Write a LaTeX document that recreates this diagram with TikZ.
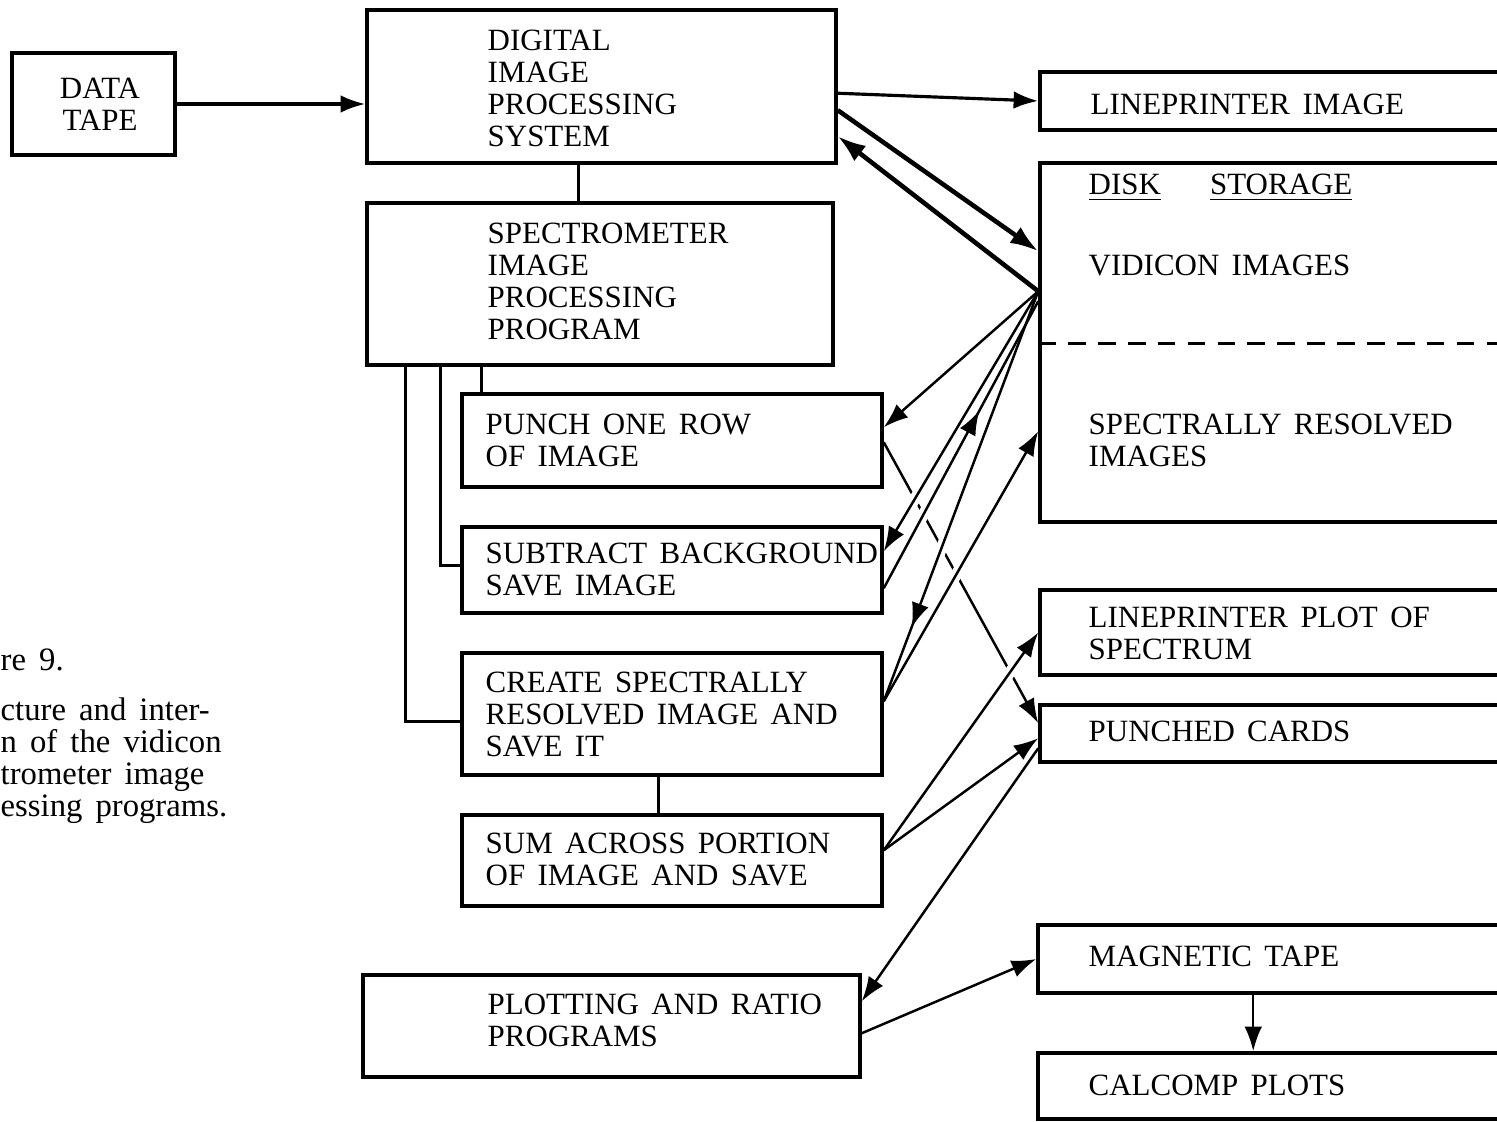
\documentclass[tikz,border=0pt]{standalone}
\usepackage{fontspec}
\setmainfont{Liberation Serif}[WordSpace=1.6]
\usetikzlibrary{arrows.meta,calc,fit,decorations.markings}

\newcommand{\boxfont}{\fontsize{8.8}{9.1}\selectfont}

\tikzset{
  box/.style={draw=black, line width=1pt, inner sep=0pt},
  txt/.style={anchor=west, align=left, inner sep=0pt, font=\boxfont},
  capt/.style={anchor=west, align=left, inner sep=0pt, font=\fontsize{9.3}{9.1}\selectfont},
  link/.style={line width=0.9pt},
  flow/.style={-{Latex[length=7pt,width=5pt]}, line width=0.7pt},
  heavy/.style={-{Latex[length=8pt,width=5.5pt]}, line width=1.3pt},
  midflow/.style={line width=0.7pt, postaction={decorate},
    decoration={markings, mark=at position #1 with {\arrow{Latex[length=7pt,width=5pt]}}}},
  gap/.style={draw=white, line width=3.2pt}
}

\begin{document}
\begin{tikzpicture}[x=0.01cm, y=-0.01cm]
  \useasboundingbox (0,0) rectangle (1497,1122);

  % boxes
  \node[box, fit={(12,53) (175,155)}] (data) {};
  \node[box, fit={(367,10) (836,163)}] (dips) {};
  \node[box, fit={(367,203) (833,365)}] (spip) {};
  \node[box, fit={(462,394) (882,487)}] (punch) {};
  \node[box, fit={(462,527) (882,613)}] (sub) {};
  \node[box, fit={(462,653) (882,775)}] (create) {};
  \node[box, fit={(462,815) (882,906)}] (sum) {};
  \node[box, fit={(363,975) (860,1077)}] (plot) {};
  \node[box, fit={(1040,72) (1540,130)}] (lpimg) {};
  \node[box, fit={(1040,163) (1540,522)}] (disk) {};
  \node[box, fit={(1040,590) (1540,675)}] (lpplot) {};
  \node[box, fit={(1040,705) (1540,762)}] (cards) {};
  \node[box, fit={(1038,925) (1540,993)}] (tape) {};
  \node[box, fit={(1038,1053) (1540,1119)}] (calcomp) {};

  % texts
  \node[font=\boxfont, align=center] (dataT) at (100,104) {DATA\\TAPE};
  \node[txt] (dipsT) at (487,88) {DIGITAL\\IMAGE\\PROCESSING\\SYSTEM};
  \node[txt] (spipT) at (487,281) {SPECTROMETER\\IMAGE\\PROCESSING\\PROGRAM};
  \node[txt] (punchT) at (485,440) {PUNCH ONE ROW\\OF IMAGE};
  \node[txt] (subT) at (485,569) {SUBTRACT BACKGROUND\\SAVE IMAGE};
  \node[txt] (createT) at (485,714) {CREATE SPECTRALLY\\RESOLVED IMAGE AND\\SAVE IT};
  \node[txt] (sumT) at (485,859) {SUM ACROSS PORTION\\OF IMAGE AND SAVE};
  \node[txt] (plotT) at (487,1020) {PLOTTING AND RATIO\\PROGRAMS};
  \node[txt] (lpimgT) at (1090,104) {LINEPRINTER IMAGE};
  \node[txt] (diskT) at (1088,188) {\underline{DISK}\hspace{14pt}\underline{STORAGE}};
  \node[txt] (vidT) at (1088,265) {VIDICON IMAGES};
  \node[txt] (specT) at (1088,440) {SPECTRALLY RESOLVED\\IMAGES};
  \node[txt] (lpplotT) at (1088,633) {LINEPRINTER PLOT OF\\SPECTRUM};
  \node[txt] (cardsT) at (1088,731) {PUNCHED CARDS};
  \node[txt] (tapeT) at (1088,956) {MAGNETIC TAPE};
  \node[txt] (calcompT) at (1088,1085) {CALCOMP PLOTS};
  \node[capt] (figT) at (0,660) {re 9.};
  \node[capt] (captT) at (0,761) {cture and inter-\\n of the vidicon\\trometer image\\essing programs.};

  \draw[line width=0.9pt, dash pattern=on 5pt off 3.5pt] ($(disk.north west)+(0,182)$) -- ($(disk.north east)+(0,182)$);

  % program tree
  \coordinate (d1) at ($(dips.south west)+(213,0)$);
  \draw[link] (d1) -- (d1 |- spip.north);
  \coordinate (s1) at ($(spip.south west)+(116,0)$);
  \draw[link] (s1) -- (s1 |- punch.north);
  \draw[link] ($(spip.south west)+(75,0)$) |- ($(sub.north west)+(0,40)$);
  \draw[link] ($(spip.south west)+(40,0)$) |- ($(create.north west)+(0,70)$);
  \coordinate (c1) at ($(create.south west)+(198,0)$);
  \draw[link] (c1) -- (c1 |- sum.north);

  % main flow
  \draw[flow, line width=0.9pt] (data.east) -- (data.east -| dips.west);
  \draw[flow, line width=0.9pt] ($(dips.north east)+(0,85)$) -- (lpimg.west);
  \draw[heavy] ($(dips.north east)+(0,102)$) -- ($(disk.north west)+(0,90)$);
  \coordinate (v) at ($(disk.north west)+(0,130)$);
  \draw[heavy] (v) -- ($(dips.north east)+(0,128)$);

  % end points on the right of the program boxes
  \coordinate (pa) at ($(punch.north east)+(0,50)$);
  \coordinate (pb) at ($(cards.north west)+(0,20)$);
  \coordinate (sa) at ($(sub.north east)+(0,63)$);
  \coordinate (ca) at ($(create.north east)+(0,50)$);
  \coordinate (ma) at ($(sum.north east)+(0,37)$);
  \coordinate (v2) at ($(disk.north west)+(0,140)$);

  \draw[flow] (pa) -- (pb);
  % breaks where the punch line is crossed
  \begin{scope}
    \clip (895,480) rectangle (1025,700);
    \draw[gap] (v) -- ($(sub.north east)+(0,26)$);
    \draw[gap] (sa) -- (v2);
    \draw[gap] (v) -- (ca);
    \draw[gap] (ca) -- ($(disk.north west)+(0,270)$);
    \draw[gap] (ma) -- (lpplot.west);
  \end{scope}

  \draw[flow] (v) -- ($(punch.north east)+(0,35)$);
  \draw[flow] (v) -- ($(sub.north east)+(0,26)$);
  \draw[midflow=0.62] (sa) -- (v2);
  \draw[midflow=0.82] (v) -- (ca);
  \draw[flow] (ca) -- ($(disk.north west)+(0,270)$);
  \draw[flow] (ma) -- (lpplot.west);
  \draw[flow] (ma) -- ($(cards.north west)+(0,35)$);
  \draw[flow] ($(cards.north west)+(0,45)$) -- ($(plot.north east)+(0,28)$);
  \draw[flow] ($(plot.north east)+(0,60)$) -- (tape.west);
  \coordinate (tb) at ($(tape.south west)+(217,0)$);
  \draw[flow] (tb) -- (tb |- calcomp.north);
\end{tikzpicture}
\end{document}
